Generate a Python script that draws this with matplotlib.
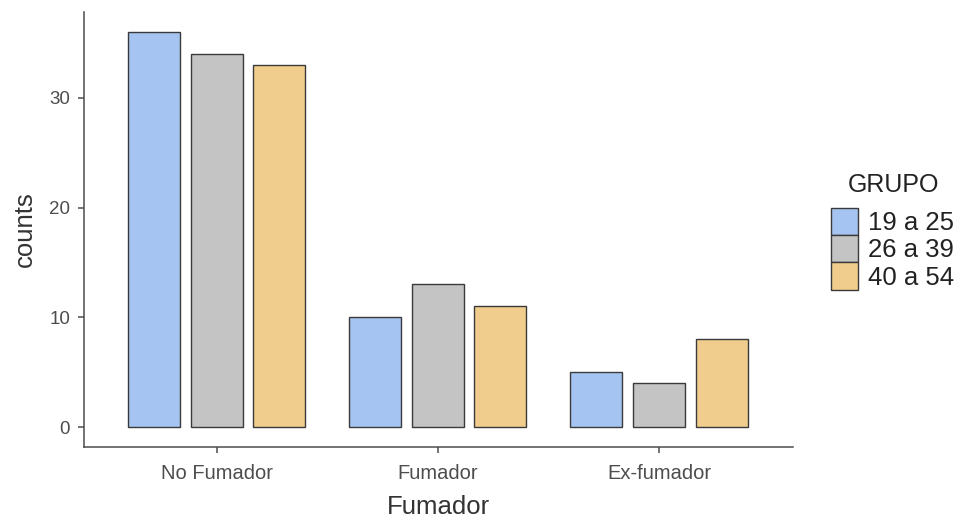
import numpy as np
import matplotlib.pyplot as plt
from matplotlib.patches import Patch

# data
categories = ["No Fumador", "Fumador", "Ex-fumador"]
groups = ["19 a 25", "26 a 39", "40 a 54"]
counts_19_25 = [36, 10, 5]
counts_26_39 = [34, 13, 4]
counts_40_54 = [33, 11, 8]
colors = ["#A6C4F1", "#C4C4C4", "#F0CD8D"]

plt.rcParams['font.family'] = ['Liberation Sans', 'DejaVu Sans']

fig = plt.figure(figsize=(9.57, 5.19), dpi=100)
ax = fig.add_axes([84 / 957, 1 - 447 / 519, (793 - 84) / 957, (447 - 12) / 519])

x = np.arange(1, len(categories) + 1)
step = 0.283
width = 0.235
series = [counts_19_25, counts_26_39, counts_40_54]
for i, vals in enumerate(series):
    ax.bar(x + (i - 1) * step, vals, width=width, color=colors[i],
           edgecolor="#3a3a3a", linewidth=1.0)

ax.set_xlim(0.401, 3.606)
ax.set_ylim(-1.8, 37.8)
ax.set_xticks(x)
ax.set_xticklabels(categories)
ax.set_yticks([0, 10, 20, 30])

for side in ["top", "right"]:
    ax.spines[side].set_visible(False)
for side in ["left", "bottom"]:
    ax.spines[side].set_color("#4d4d4d")
    ax.spines[side].set_linewidth(1.1)
ax.tick_params(colors="#4d4d4d", labelcolor="#4d4d4d", length=4, width=1.1,
               pad=6)
ax.tick_params(axis="x", labelsize=14.5, pad=8)
ax.tick_params(axis="y", labelsize=13.5)

ax.set_xlabel("Fumador", fontsize=18.5, color="#333333", labelpad=9)
ax.set_ylabel("counts", fontsize=18.5, color="#333333", labelpad=9)

# legend title drawn on its own so the gap under it can be set
fig.text(848 / 957, 1 - 185 / 519, "GRUPO", fontsize=18, color="#222222",
         ha="left", va="center")
handles = [Patch(facecolor=c, edgecolor="#3a3a3a", linewidth=1.0) for c in colors]
leg = fig.legend(handles, groups, loc="upper left",
                 bbox_to_anchor=(831 / 957, 1 - 208 / 519), frameon=False,
                 fontsize=18.5, handlelength=1.05,
                 handleheight=1.25, handletextpad=0.38, labelspacing=0.0,
                 borderaxespad=0, borderpad=0)
for t in leg.get_texts():
    t.set_color("#222222")

fig.savefig("out.png", dpi=100)
